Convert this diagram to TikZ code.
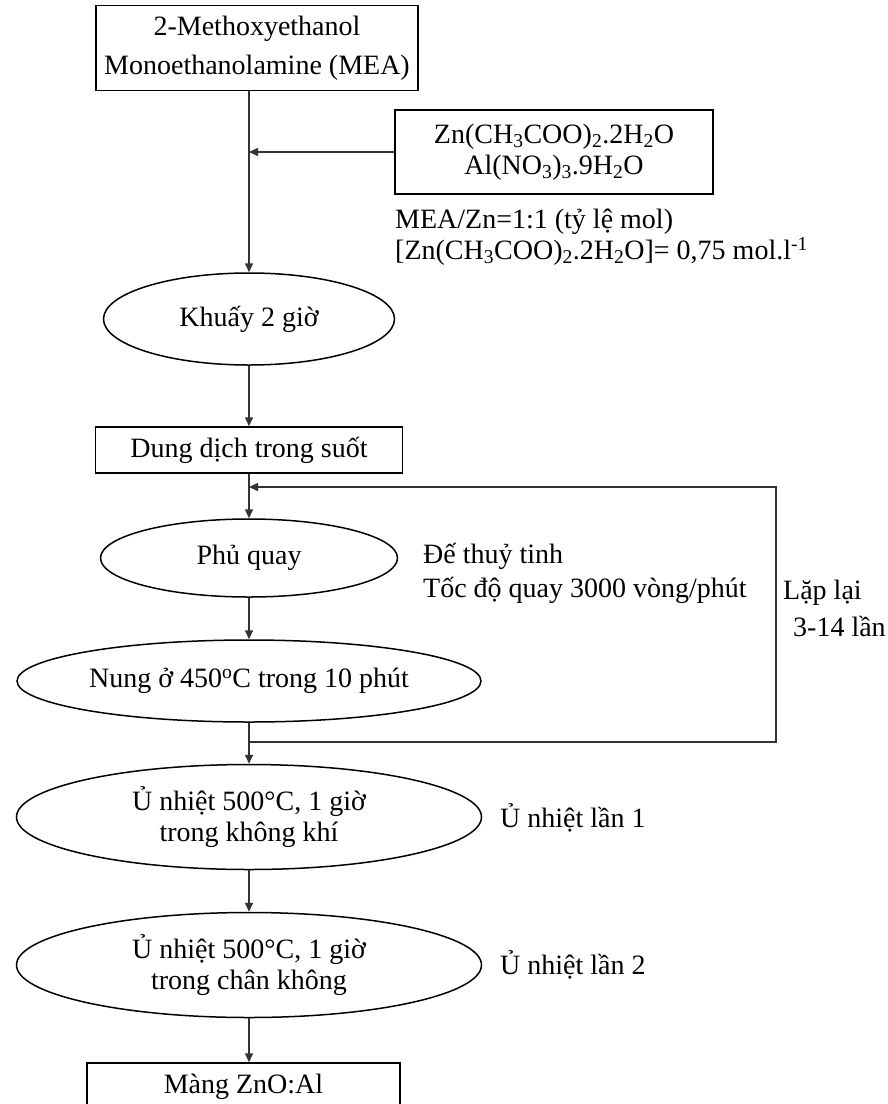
\documentclass[tikz,border=0pt]{standalone}
\usepackage{fontspec}
\setmainfont{Liberation Serif}
\usepackage{tikz}
\usetikzlibrary{shapes,positioning,arrows.meta,calc}

\begin{document}
\begin{tikzpicture}[x=1pt,y=-1pt,
  font=\fontsize{28}{31}\selectfont,
  box/.style={draw,line width=1.5pt,rectangle,inner sep=0pt,align=center},
  oval/.style={draw,line width=1.5pt,ellipse,inner sep=0pt,align=center},
  note/.style={inner sep=0pt,anchor=west,align=left},
  link/.style={draw=black!80,line width=1.5pt,-{Triangle[length=9pt,width=8pt]}}]
\useasboundingbox (0,0) rectangle (888,1104);

\node[box,minimum width=322pt,minimum height=85pt] (mix) at (257,48) {2-Methoxyethanol\\[8pt]Monoethanolamine (MEA)};
\node[box,minimum width=318pt,minimum height=84pt] (reagent) at (554,152) {Zn(CH\textsubscript{3}COO)\textsubscript{2}.2H\textsubscript{2}O\\Al(NO\textsubscript{3})\textsubscript{3}.9H\textsubscript{2}O};
\node[note] (ratio) at (395,237) {MEA/Zn=1:1 (tỷ lệ mol)\\{}[Zn(CH\textsubscript{3}COO)\textsubscript{2}.2H\textsubscript{2}O]= 0,75 mol.l\textsuperscript{-1}};
\node[oval,minimum width=291pt,minimum height=92pt] (khuay) at (249,319) {Khuấy 2 giờ};
\node[box,minimum width=307pt,minimum height=46pt] (clear) at (249,450) {Dung dịch trong suốt};
\node[oval,minimum width=297pt,minimum height=78pt] (phu) at (249,558) {Phủ quay};
\node[note] (substrate) at (423,573) {Đế thuỷ tinh\\[3pt]Tốc độ quay 3000 vòng/phút};
\node[oval,minimum width=464pt,minimum height=82pt] (nung) at (249,681) {Nung ở 450\textsuperscript{o}C trong 10 phút};
\node[note] (repeat) at (783,608) {Lặp lại\\[6pt]\hspace*{10pt}3-14 lần};
\node[oval,minimum width=465pt,minimum height=105pt] (u1) at (249,817) {Ủ nhiệt 500°C, 1 giờ\\trong không khí};
\node[note] (u1note) at (500,818) {Ủ nhiệt lần 1};
\node[oval,minimum width=465pt,minimum height=105pt] (u2) at (249,965) {Ủ nhiệt 500°C, 1 giờ\\trong chân không};
\node[note] (u2note) at (500,965) {Ủ nhiệt lần 2};
\node[box,minimum width=313pt,minimum height=48pt] (film) at (243.5,1087) {Màng ZnO:Al};

\coordinate (loopbot) at (776,742);
\coordinate (looptop) at (776,487);

\draw[link] (mix.south -| khuay.north) -- (khuay.north);
\draw[link] (reagent.west) -- (reagent.west -| khuay.north);
\draw[link] (khuay) -- (clear);
\draw[link] (clear) -- (phu);
\draw[link] (phu) -- (nung);
\draw[link] (nung) -- (u1);
\draw[link] (u1) -- (u2);
\draw[link] (u2.south) -- (u2.south |- film.north);
\draw[link] (loopbot -| nung.south) -- (loopbot) -- (looptop) -- (looptop -| clear.south);
\end{tikzpicture}
\end{document}
